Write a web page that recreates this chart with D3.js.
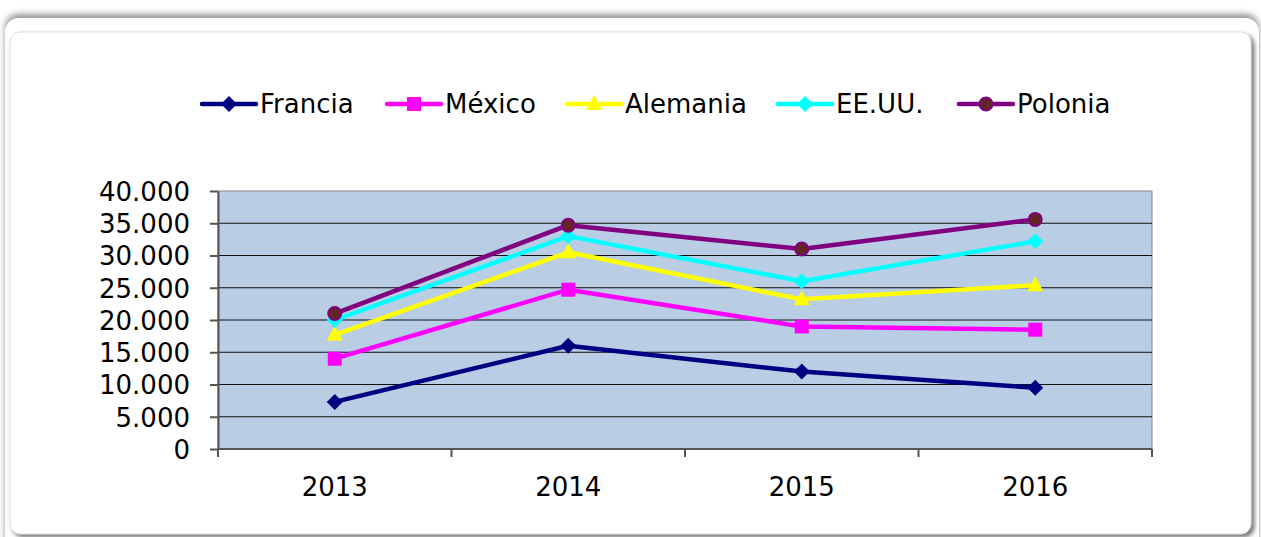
<!DOCTYPE html>
<html>
<head>
<meta charset="utf-8">
<script src="https://cdn.jsdelivr.net/npm/d3@7"></script>
<style>
  body { margin: 0; background: #fff; }
  svg { display: block; font-family: "DejaVu Sans", Verdana, sans-serif; }
</style>
</head>
<body>
<svg width="1261" height="537"></svg>
<script>
const years = ["2013", "2014", "2015", "2016"];
const seriesNames = ["Francia", "México", "Alemania", "EE.UU.", "Polonia"];
const francia = [7300, 16000, 12000, 9500];
const mexico = [14000, 24700, 19000, 18500];
const alemania = [17700, 30500, 23200, 25400];
const eeuu = [20000, 33000, 26000, 32200];
const polonia = [21000, 34700, 31000, 35600];
const yTicks = [0, 5000, 10000, 15000, 20000, 25000, 30000, 35000, 40000];

const colors = ["#000080", "#ff00ff", "#ffff00", "#00ffff", "#800080"];
const symbols = ["diamond", "square", "triangle", "diamond", "circle"];
const series = [francia, mexico, alemania, eeuu, polonia].map((values, i) => ({
  name: seriesNames[i], values, color: colors[i], symbol: symbols[i]
}));

const FONT = "'DejaVu Sans', Verdana, sans-serif";
const svg = d3.select("svg");
const defs = svg.append("defs");

const shadow = defs.append("filter").attr("id", "shadow")
  .attr("x", "-5%").attr("y", "-10%").attr("width", "110%").attr("height", "120%");
shadow.append("feDropShadow").attr("dx", 3).attr("dy", 3).attr("stdDeviation", 2)
  .attr("flood-color", "#555").attr("flood-opacity", 0.8);

const topShade = defs.append("filter").attr("id", "topshade")
  .attr("x", "-5%").attr("y", "-30%").attr("width", "110%").attr("height", "160%");
topShade.append("feDropShadow").attr("dx", 0).attr("dy", -4).attr("stdDeviation", 3)
  .attr("flood-color", "#888").attr("flood-opacity", 0.9);

// outer card and inner frame
svg.append("rect").attr("x", 5).attr("y", 18).attr("width", 1254).attr("height", 540)
  .attr("rx", 14).attr("fill", "#fff").attr("filter", "url(#topshade)");
svg.append("rect").attr("x", 10).attr("y", 32).attr("width", 1241).attr("height", 502)
  .attr("rx", 10).attr("fill", "#fff").attr("stroke", "#ddd").attr("stroke-width", 1)
  .attr("filter", "url(#shadow)");

const plot = { left: 218, right: 1152, top: 191, bottom: 449 };

const x = d3.scaleBand().domain(years).range([plot.left, plot.right]);
const y = d3.scaleLinear().domain([0, 40000]).range([plot.bottom, plot.top]);

svg.append("rect")
  .attr("x", plot.left).attr("y", plot.top)
  .attr("width", plot.right - plot.left).attr("height", plot.bottom - plot.top)
  .attr("fill", "#b9cde5").attr("stroke", "#888").attr("stroke-width", 1);

// gridlines
svg.append("g").selectAll("line").data(yTicks.filter(d => d > 0 && d < 40000)).join("line")
  .attr("x1", plot.left).attr("x2", plot.right)
  .attr("y1", d => y(d)).attr("y2", d => y(d))
  .attr("stroke", "#111").attr("stroke-width", 1);

const fmt = d => d === 0 ? "0" : d3.format(",")(d).replace(/,/g, ".");

// y axis
const yAxis = svg.append("g").attr("transform", `translate(${plot.left},0)`)
  .call(d3.axisLeft(y).tickValues(yTicks).tickFormat(fmt).tickSize(8).tickSizeOuter(0))
  .attr("font-family", FONT);
yAxis.select(".domain").attr("stroke", "#555").attr("stroke-width", 2);
yAxis.selectAll(".tick line").attr("stroke", "#555").attr("stroke-width", 2);
yAxis.selectAll(".tick text").attr("font-size", 26).attr("fill", "#000")
  .attr("x", -28).attr("dy", "0.36em");

// x axis
const boundaries = years.map(d => x(d)).concat([plot.right]);
const xAxisG = svg.append("g");
xAxisG.append("line").attr("x1", plot.left).attr("x2", plot.right)
  .attr("y1", plot.bottom).attr("y2", plot.bottom)
  .attr("stroke", "#555").attr("stroke-width", 2);
xAxisG.selectAll("line.tk").data(boundaries).join("line").attr("class", "tk")
  .attr("x1", d => d).attr("x2", d => d)
  .attr("y1", plot.bottom).attr("y2", plot.bottom + 8)
  .attr("stroke", "#555").attr("stroke-width", 2);
xAxisG.selectAll("text").data(years).join("text")
  .attr("x", d => x(d) + x.bandwidth() / 2).attr("y", 496)
  .attr("text-anchor", "middle").attr("font-size", 26).attr("fill", "#000")
  .text(d => d);

const line = d3.line().x((d, i) => x(years[i]) + x.bandwidth() / 2).y(d => y(d));

function drawMarker(g, s) {
  if (s.symbol === "diamond") {
    g.append("path").attr("d", "M0,-8L8,0L0,8L-8,0Z").attr("fill", s.color);
  } else if (s.symbol === "square") {
    g.append("rect").attr("x", -7).attr("y", -7).attr("width", 14).attr("height", 14).attr("fill", s.color);
  } else if (s.symbol === "triangle") {
    g.append("path").attr("d", "M0,-9L8,6L-8,6Z").attr("fill", s.color);
  } else {
    g.append("circle").attr("r", 6.5).attr("fill", "#632523").attr("stroke", s.color).attr("stroke-width", 2);
  }
}

const lines = svg.append("g");
series.forEach(s => {
  lines.append("path").datum(s.values).attr("d", line)
    .attr("fill", "none").attr("stroke", s.color).attr("stroke-width", 4.5)
    .attr("stroke-linejoin", "round");
  s.values.forEach((v, i) => {
    const g = lines.append("g")
      .attr("transform", `translate(${x(years[i]) + x.bandwidth() / 2},${y(v)})`);
    drawMarker(g, s);
  });
});

// legend
const legendX = [202, 387, 567, 778, 959];
const legend = svg.append("g");
series.forEach((s, i) => {
  const g = legend.append("g").attr("transform", `translate(${legendX[i]},104)`);
  g.append("line").attr("x1", 0).attr("x2", 54).attr("stroke", s.color)
    .attr("stroke-width", 4.5).attr("stroke-linecap", "round");
  const m = g.append("g").attr("transform", "translate(27,0)");
  drawMarker(m, s);
  g.append("text").attr("x", 58).attr("dy", "0.36em").attr("font-size", 26)
    .attr("fill", "#000").text(s.name);
});
</script>
</body>
</html>
